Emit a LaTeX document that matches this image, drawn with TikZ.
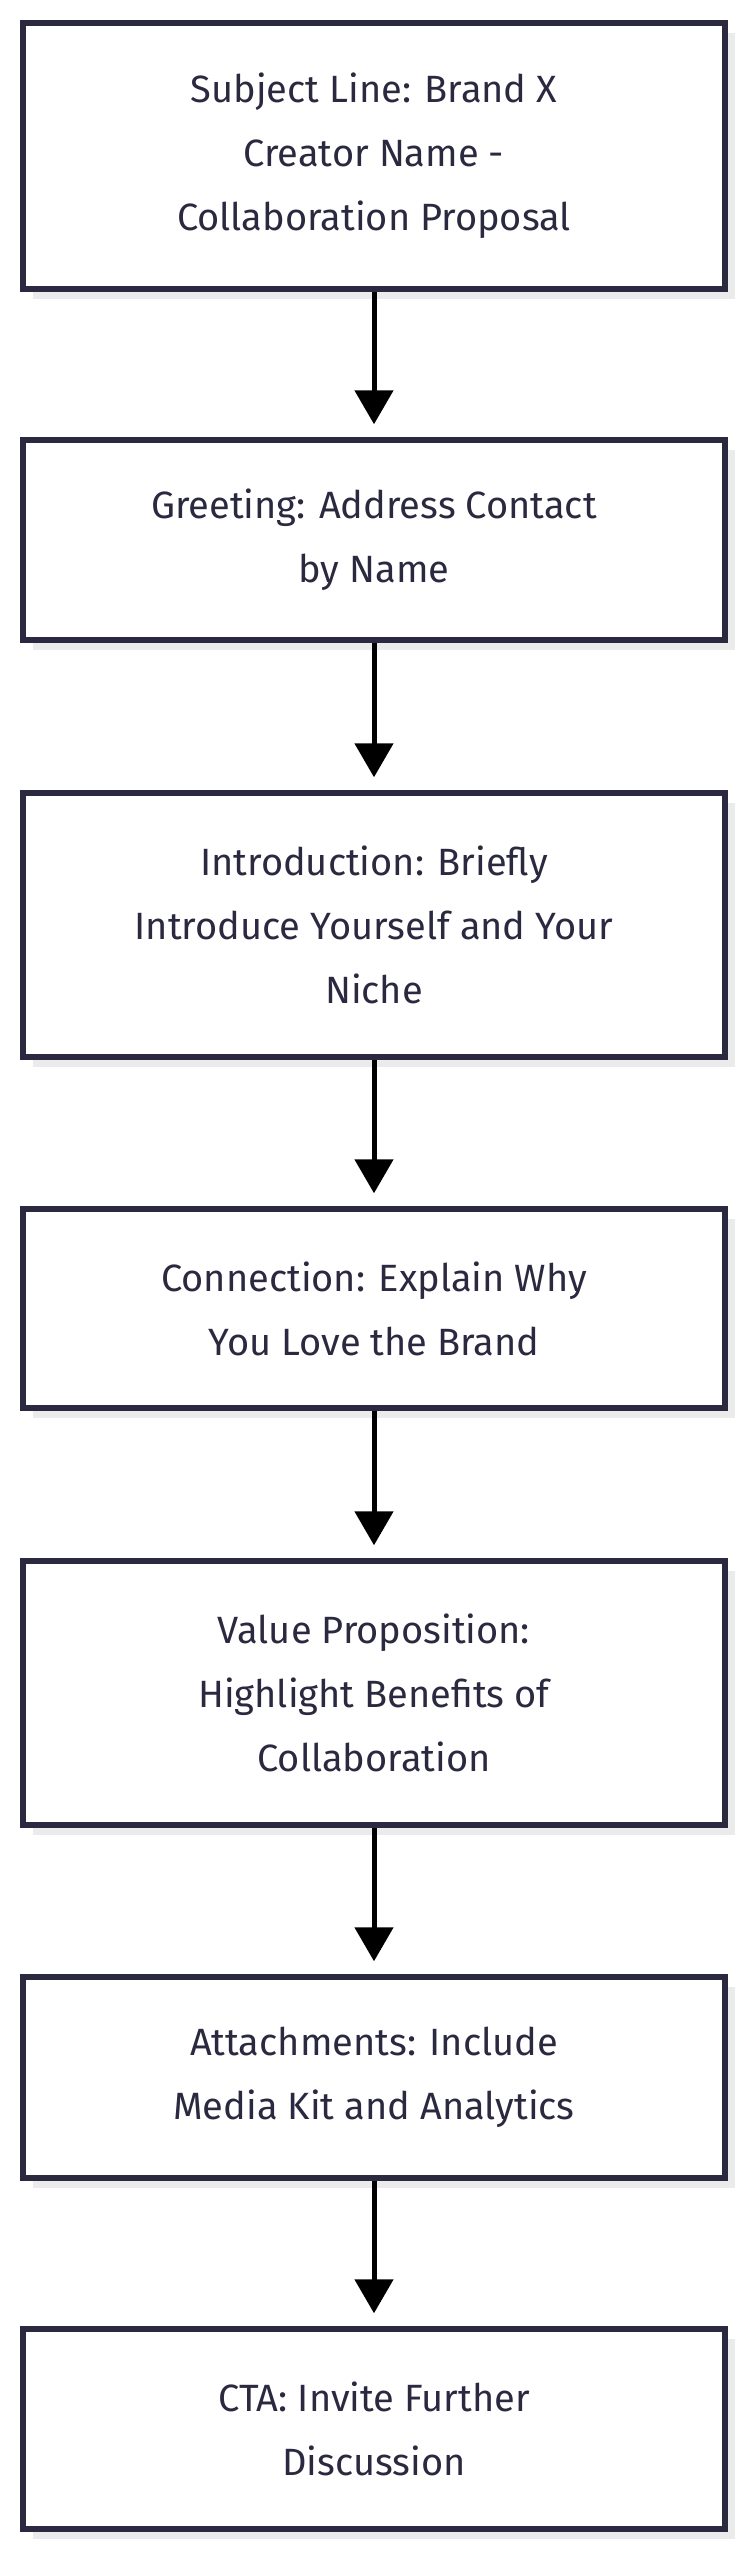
\documentclass[tikz,border=0pt]{standalone}
\usepackage{fontspec}
\setmainfont{Fira Sans}
\usetikzlibrary{arrows.meta}
\definecolor{ink}{HTML}{2A2940}
\definecolor{shadowgray}{HTML}{EBEBEB}
\begin{document}
\begin{tikzpicture}[x=1pt,y=1pt,
  box/.style={draw=ink,line width=5.5pt,fill=white,minimum width=702pt,align=center,text=ink,
    font=\fontsize{38}{64}\selectfont,inner sep=0pt},
  flow/.style={line width=5pt,-{Triangle[length=34pt,width=38pt]}}]
\useasboundingbox (0,0) rectangle (755,-2560);
\def\mk#1#2#3#4{%
  \fill[shadowgray] (33,-#2-10) rectangle (735,-#3-10);
  \node[box,minimum height=#3pt-#2pt] (#1) at (374,-#2/2-#3/2) {#4};}
\mk{a}{23}{289}{Subject Line: Brand X\\Creator Name -\\Collaboration Proposal}
\mk{b}{440}{640}{Greeting: Address Contact\\by Name}
\mk{c}{793}{1057}{Introduction: Briefly\\Introduce Yourself and Your\\Niche}
\mk{d}{1209}{1408}{Connection: Explain Why\\You Love the Brand}
\mk{e}{1561}{1825}{Value Proposition:\\Highlight Benefits of\\Collaboration}
\mk{f}{1977}{2178}{Attachments: Include\\Media Kit and Analytics}
\mk{g}{2329}{2529}{CTA: Invite Further\\Discussion}
\foreach \p/\q in {a/b,b/c,c/d,d/e,e/f,f/g}
  \draw[flow] (\p.south) -- ([yshift=13pt]\q.north);
\end{tikzpicture}
\end{document}
